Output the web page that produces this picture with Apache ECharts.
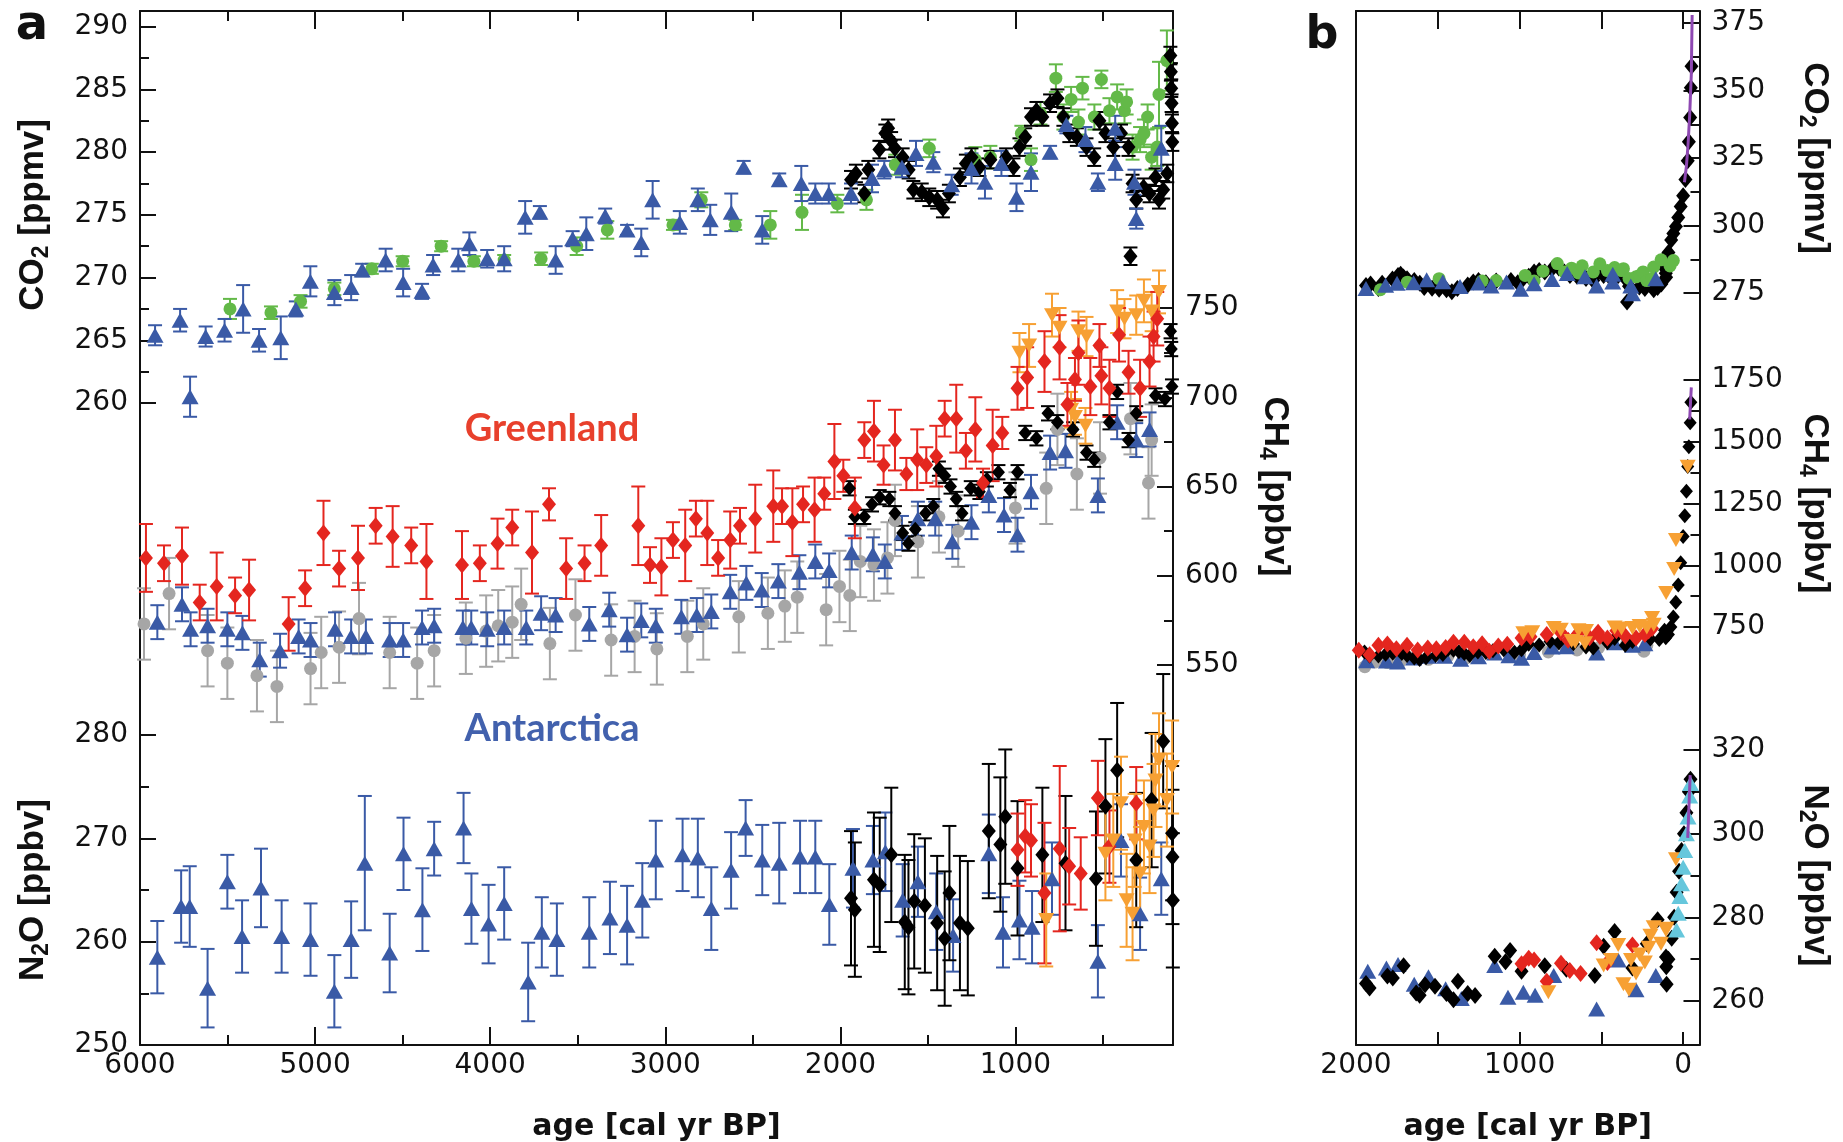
<!DOCTYPE html>
<html>
<head>
<meta charset="utf-8">
<title>CO2, CH4 and N2O over the late Holocene</title>
<script src="https://cdn.jsdelivr.net/npm/echarts@6.0.0/dist/echarts.min.js"></script>
<style>
  html, body { margin: 0; padding: 0; background: #fff; }
  #chart { width: 1843px; height: 1142px; }
</style>
</head>
<body>
<div id="chart"></div>
<script>
// ages in cal yr BP

// panel a, CO2 [ppmv]
var co2BlueAge = [5914,5771,5714,5625,5517,5411,5320,5196,5110,5027,
  4890,4794,4731,4597,4497,4389,4326,4182,4119,4017,
  3920,3800,3716,3626,3529,3451,3343,3218,3137,3072,
  2917,2814,2743,2623,2552,2446,2349,2223,2143,2066,
  1939,1819,1749,1648,1568,1469,1364,1251,1174,1080,
  994,911,802,709,600,529,430,430,320,310,167];
var co2BlueVal = [265.4,266.6,260.5,265.3,265.8,267.5,265.0,265.2,267.5,269.7,
  268.8,269.2,270.6,271.4,269.6,268.9,271.0,271.4,272.7,271.5,
  271.5,274.8,275.2,271.4,273.1,273.5,274.9,273.8,272.8,276.2,
  274.4,276.2,274.6,275.2,278.8,273.8,277.8,277.5,276.7,276.7,
  276.7,277.9,278.6,278.8,279.9,279.2,277.4,278.7,277.6,279.1,
  276.4,278.4,280.0,282.2,281.0,277.6,281.9,279.1,277.6,274.7,280.3];
var co2BlueErr = [0.8,0.9,1.6,0.8,0.9,1.9,0.9,1.7,0.6,1.2,
  1.0,1.0,0.5,0.9,1.1,0.6,0.8,0.9,0.9,0.7,
  1.0,1.3,0.5,1.1,0.6,1.3,0.6,0.4,1.1,1.5,
  0.9,0.9,1.2,1.5,0.5,1.1,0.5,1.4,0.8,0.8,
  0.8,1.1,0.7,0.8,1.0,0.8,0.8,1.2,1.3,1.0,
  1.1,1.5,0.5,0.7,1.0,0.7,1.0,1.3,1.0,0.8,1.8];

var co2GreenAge = [5486,5252,5083,4890,4676,4500,4280,4093,3920,3709,
  3506,3331,2956,2794,2600,2400,2219,2017,1851,1686,
  1492,1229,1143,966,911,857,769,726,682,640,
  617,549,509,463,419,377,365,331,288,266,
  245,222,190,180,135];
var co2GreenVal = [267.5,267.2,268.1,269.1,270.7,271.3,272.5,271.3,271.4,271.5,
  272.5,273.8,274.2,276.2,274.2,274.2,275.2,275.9,276.2,279.0,
  280.3,279.4,279.6,281.5,279.4,283.1,285.9,282.8,284.2,282.4,
  285.1,282.8,285.8,283.3,284.4,283.3,284.0,280.4,281.0,281.5,
  282.8,279.6,280.4,284.6,287.3];
var co2GreenErr = [0.8,0.5,0.5,0.5,0.4,0.4,0.4,0.4,0.4,0.5,
  0.7,0.7,0.4,0.6,0.4,1.1,1.4,0.7,0.8,0.8,
  0.7,1.0,0.9,0.6,0.9,0.9,1.1,1.0,1.0,1.0,
  0.9,1.0,0.7,1.0,1.0,1.0,1.0,1.0,1.0,1.1,
  1.0,1.0,1.5,2.6,2.4];

var co2BlackAge = [1939,1911,1863,1840,1777,1743,1727,1710,1688,1644,
  1610,1583,1535,1492,1447,1414,1380,1317,1283,1251,
  1206,1143,1053,1011,977,944,911,880,846,802,
  760,726,692,649,594,550,520,486,441,397,
  354,343,331,310,268,234,200,180,156,133,
  115,112,110,108,106,104];
var co2BlackVal = [277.8,278.3,276.7,278.6,280.2,281.5,281.9,280.9,280.3,279.6,
  278.6,277.0,276.8,276.4,276.2,275.5,276.7,278.0,279.1,279.6,
  278.8,279.4,279.6,278.8,280.4,281.2,282.8,283.3,282.8,283.9,
  284.3,282.8,281.5,281.2,280.4,279.6,282.5,281.5,280.4,281.5,
  280.4,271.7,277.5,276.2,277.2,276.7,278.0,276.2,277.0,278.3,
  287.7,286.4,285.1,283.9,282.3,280.8];
var co2BlackErr = 0.7;

// panel a, CH4 [ppbv]
var ch4RedAge = [5966,5863,5760,5659,5562,5457,5377,5151,5057,4952,
  4863,4755,4654,4557,4451,4364,4161,4059,3958,3874,
  3761,3664,3566,3461,3366,3154,3087,3022,2956,2886,
  2825,2760,2698,2629,2573,2486,2383,2333,2274,2213,
  2147,2092,2034,1983,1917,1863,1808,1753,1688,1623,
  1561,1509,1452,1404,1338,1283,1229,1185,1130,1075,
  988,933,834,748,703,660,640,572,520,509,
  463,408,354,288,234,211,190];
var ch4RedVal = [610,607,611,585,594,589,592,573,593,624,
  604,610,628,622,617,608,606,607,618,627,
  613,640,604,607,617,628,606,605,620,617,
  632,624,610,620,628,632,639,639,630,640,
  637,646,664,656,638,676,681,662,676,657,
  665,662,667,688,688,670,682,652,673,680,
  705,711,720,728,696,710,725,706,729,712,
  705,735,714,705,720,734,744];
var ch4RedErr = [19,10,16,10,19,10,17,15,10,18,
  10,18,10,17,10,21,19,10,14,10,
  23,9,17,10,17,22,10,16,10,20,
  10,18,10,16,10,19,20,10,19,10,
  18,9,21,9,17,10,17,11,17,9,
  17,10,17,10,19,10,18,8,20,9,
  12,17,17,18,12,12,18,16,12,16,
  16,15,12,16,14,14,15];

var ch4OrangeAge = [977,922,791,748,682,660,640,600,594,419,377,310,266,222,180];
var ch4OrangeVal = [725,729,746,739,693,689,737,684,734,748,744,746,754,748,759];
var ch4OrangeErr = [11,12,12,11,10,10,11,10,11,12,11,11,12,11,12];

var ch4BlueAge = [5901,5760,5711,5614,5501,5415,5316,5200,5094,5026,
  4886,4794,4710,4574,4497,4389,4320,4156,4108,4017,
  3920,3794,3709,3626,3434,3320,3218,3137,3054,2908,
  2820,2737,2629,2537,2449,2354,2234,2143,2064,1935,
  1814,1746,1648,1557,1458,1360,1251,1152,1065,988,
  911,802,714,529,419,310,234];
var ch4BlueVal = [574,584,570,572,570,568,553,558,566,564,
  570,566,566,564,564,571,572,571,571,570,
  571,571,579,578,573,581,567,575,572,577,
  578,580,591,596,592,597,602,608,603,613,
  612,608,624,632,632,619,630,645,634,623,
  647,669,670,645,686,676,682];
var ch4BlueErr = 9.5;

var ch4GrayAge = [5977,5834,5614,5501,5332,5218,5026,4965,4863,4749,
  4574,4417,4320,4139,4023,3954,3874,3823,3659,3513,
  3309,3175,3048,2874,2783,2580,2414,2317,2246,2081,
  2005,1946,1886,1808,1731,1688,1557,1437,1327,1000,
  824,760,649,517,343,240,222];
var ch4GrayVal = [573,590,558,551,544,538,548,557,560,576,
  557,551,558,565,569,572,574,584,562,578,
  564,566,559,566,573,577,579,583,588,581,
  594,589,608,606,610,631,619,633,625,638,
  649,682,657,666,688,652,676];
var ch4GrayErr = 20;

var ch4BlackAge = [1948,1917,1863,1819,1775,1720,1688,1644,1611,1572,
  1513,1469,1437,1404,1371,1338,1305,1255,1206,1163,
  1097,1031,988,944,880,814,760,671,594,550,
  463,419,354,310,200,146,114,110,106];
var ch4BlackVal = [649,633,633,640,644,643,635,624,618,626,
  635,639,660,656,650,643,635,649,647,654,
  658,648,658,680,677,691,686,682,669,665,
  686,703,676,691,701,699,737,727,706];
var ch4BlackErr = 4;

// panel a, N2O [ppbv]
var n2oBlueAge = [5901,5765,5716,5614,5501,5417,5309,5191,5026,4890,
  4794,4716,4574,4495,4387,4320,4152,4107,4009,3920,
  3783,3705,3619,3434,3316,3218,3131,3054,2901,2814,
  2737,2624,2541,2446,2349,2230,2143,2063,1928,1814,
  1743,1644,1557,1452,1356,1152,1071,977,905,791,
  529,397,288,167];
var n2oBlueVal = [258.5,263.4,263.4,255.5,265.8,260.5,265.2,260.5,260.2,255.2,
  260.2,267.6,258.9,268.5,263.1,269.0,271.0,263.2,261.7,263.7,
  256.1,260.9,260.2,260.9,262.3,261.6,264.0,267.9,268.4,268.1,
  263.2,266.9,271.0,267.9,267.6,268.2,268.2,263.6,267.1,267.9,
  268.7,264.0,265.8,262.9,260.6,268.5,260.9,262.1,261.4,266.1,
  258.1,269.8,262.7,266.1];
var n2oBlueErr = [3.5,3.5,3.9,3.8,2.6,3.5,3.8,3.5,3.5,3.5,
  3.7,6.5,3.8,3.5,4.0,2.6,3.4,3.4,3.8,3.5,
  3.8,3.4,3.5,3.4,3.5,3.8,3.6,3.8,3.5,3.8,
  4.0,3.7,2.7,3.4,3.9,3.5,3.5,3.9,3.8,3.3,
  3.8,3.5,3.4,3.7,3.5,3.8,3.4,3.8,3.5,3.5,
  3.5,3.5,3.5,3.5];

var n2oBlackAge = [1939,1917,1808,1775,1709,1632,1611,1578,1517,1447,
  1404,1377,1317,1272,1152,1086,1058,988,846,714,
  540,486,419,310,222,156,105,103,101];
var n2oBlackVal = [264.2,263.1,266.0,265.5,268.4,261.9,261.4,263.9,263.5,261.8,
  260.3,264.7,261.8,261.3,270.7,269.4,272.1,267.1,268.4,267.6,
  266.1,273.1,276.6,267.9,273.7,279.4,270.5,268.2,264.0];
var n2oBlackErr = 6.5;

var n2oRedAge = [988,944,911,834,747,693,627,529,463,310];
var n2oRedVal = [268.9,270.2,269.8,264.7,269.0,267.3,266.6,273.9,269.2,273.4];
var n2oRedErr = [3.5,3.5,3.5,6.8,8.0,3.7,3.5,3.6,3.5,3.5];

var n2oOrangeAge = [824,486,441,397,365,331,319,288,266,234,211,200,180,135,105];
var n2oOrangeVal = [262.1,268.5,269.8,273.4,264.0,262.7,269.8,266.6,271.1,269.2,272.7,275.6,277.6,273.7,276.9];
var n2oOrangeErr = 4.5;

// panel b, the industrial rise (added to the records above)
var co2ModBlackAge = [90,73,60,44,30,15,0,-14,-28,-35,-43,-47,-51];
var co2ModBlackVal = [290,294.6,297,299.6,303,307,311,317,324,331,340,351,359];
var co2ModGreenAge = [80,60];
var co2ModGreenVal = [285,287];
var co2PurpleAge = [-8,-20,-30,-40,-50,-55];
var co2PurpleVal = [316,322,330,341,356,378];

var ch4ModBlackAge = [90,75,60,45,30,15,0,-10,-20,-28,-35,-43,-47];
var ch4ModBlackVal = [720,750,790,850,920,1010,1116,1200,1300,1400,1480,1577,1660];
var ch4ModOrangeAge = [190,104,55,44,-28];
var ch4ModOrangeVal = [786,888,985,1102,1399];
var ch4PurpleAge = [-40,-45,-50];
var ch4PurpleVal = [1590,1660,1720];

var n2oModBlackAge = [90,70,55,40,25,10,-5,-20,-35,-45];
var n2oModBlackVal = [270,275,280,286,291,296,300,305,310,313];
var n2oModOrangeAge = [102,44];
var n2oModOrangeVal = [277.3,293.9];
var n2oCyanAge = [40,30,20,10,0,-10,-20,-30,-40,-45];
var n2oCyanVal = [277,281,285,288,292,296,300,304,309,312];
var n2oPurpleAge = [-28,-35,-43];
var n2oPurpleVal = [299,306,314];

window.onload = function() {

    var chart = echarts.init(document.getElementById('chart'));

    var INK = '#111111';
    var TICKFONT = 'DejaVu Sans';
    var TITLEFONT = 'Liberation Sans';
    var COL = {
        blue: '#3a5aa6', green: '#63b948', black: '#000000', red: '#e4261f',
        orange: '#f7a033', gray: '#a6a6a6', purple: '#8e48b2', cyan: '#66c7dc'
    };

    // x is plotted as minus the age, so ages run right to left
    function pts(age, val, oldest) {
        var out = [];
        for (var i = 0; i < age.length; i++) {
            if (age[i] <= oldest) out.push([-age[i], val[i]]);
        }
        return out;
    }
    function bars(age, val, err) {
        return age.map(function(a, i) {
            var e = (typeof err === 'number') ? err : err[i];
            return [-a, val[i] - e, val[i] + e];
        });
    }

    function errBar(params, api) {
        var hi = api.coord([api.value(0), api.value(2)]);
        var lo = api.coord([api.value(0), api.value(1)]);
        var c = api.visual('color');
        var w = 7;
        function seg(x1, y1, x2, y2) {
            return { type: 'line', shape: { x1: x1, y1: y1, x2: x2, y2: y2 },
                     style: { stroke: c, lineWidth: 2 } };
        }
        return { type: 'group', children: [
            seg(hi[0], hi[1], lo[0], lo[1]),
            seg(hi[0] - w, hi[1], hi[0] + w, hi[1]),
            seg(lo[0] - w, lo[1], lo[0] + w, lo[1])
        ] };
    }

    var series = [];
    function addErr(xi, yi, data, color) {
        series.push({ type: 'custom', xAxisIndex: xi, yAxisIndex: yi, data: data,
            renderItem: errBar, encode: { x: 0, y: [1, 2] }, itemStyle: { color: color },
            clip: false, silent: true });
    }
    function addDots(xi, yi, data, color, sym, size, rot) {
        series.push({ type: 'scatter', xAxisIndex: xi, yAxisIndex: yi, data: data,
            symbol: sym, symbolSize: size, symbolRotate: rot || 0,
            itemStyle: { color: color, opacity: 1 }, clip: false, silent: true });
    }
    function addLine(xi, yi, data, color) {
        series.push({ type: 'line', xAxisIndex: xi, yAxisIndex: yi, data: data,
            showSymbol: false, lineStyle: { color: color, width: 3 }, clip: false, silent: true });
    }

    var TRI = [17, 15], DIA = [14, 17], DOT = 13, INV = [16, 14];
    var BIG = 99999;

    // panel a: CO2
    addErr(4, 2, bars(co2GreenAge, co2GreenVal, co2GreenErr), COL.green);
    addDots(4, 2, pts(co2GreenAge, co2GreenVal, BIG), COL.green, 'circle', DOT);
    addErr(4, 2, bars(co2BlackAge, co2BlackVal, co2BlackErr), COL.black);
    addDots(4, 2, pts(co2BlackAge, co2BlackVal, BIG), COL.black, 'diamond', DIA);
    addErr(4, 2, bars(co2BlueAge, co2BlueVal, co2BlueErr), COL.blue);
    addDots(4, 2, pts(co2BlueAge, co2BlueVal, BIG), COL.blue, 'triangle', TRI);

    // panel a: CH4
    addErr(5, 3, bars(ch4GrayAge, ch4GrayVal, ch4GrayErr), COL.gray);
    addDots(5, 3, pts(ch4GrayAge, ch4GrayVal, BIG), COL.gray, 'circle', DOT);
    addErr(5, 3, bars(ch4BlueAge, ch4BlueVal, ch4BlueErr), COL.blue);
    addDots(5, 3, pts(ch4BlueAge, ch4BlueVal, BIG), COL.blue, 'triangle', TRI);
    addErr(5, 3, bars(ch4BlackAge, ch4BlackVal, ch4BlackErr), COL.black);
    addDots(5, 3, pts(ch4BlackAge, ch4BlackVal, BIG), COL.black, 'diamond', [13, 15]);
    addErr(5, 3, bars(ch4OrangeAge, ch4OrangeVal, ch4OrangeErr), COL.orange);
    addDots(5, 3, pts(ch4OrangeAge, ch4OrangeVal, BIG), COL.orange, 'triangle', INV, 180);
    addErr(5, 3, bars(ch4RedAge, ch4RedVal, ch4RedErr), COL.red);
    addDots(5, 3, pts(ch4RedAge, ch4RedVal, BIG), COL.red, 'diamond', DIA);

    // panel a: N2O
    addErr(6, 4, bars(n2oBlueAge, n2oBlueVal, n2oBlueErr), COL.blue);
    addDots(6, 4, pts(n2oBlueAge, n2oBlueVal, BIG), COL.blue, 'triangle', TRI);
    addErr(6, 4, bars(n2oBlackAge, n2oBlackVal, n2oBlackErr), COL.black);
    addDots(6, 4, pts(n2oBlackAge, n2oBlackVal, BIG), COL.black, 'diamond', DIA);
    addErr(6, 4, bars(n2oRedAge, n2oRedVal, n2oRedErr), COL.red);
    addDots(6, 4, pts(n2oRedAge, n2oRedVal, BIG), COL.red, 'diamond', DIA);
    addErr(6, 4, bars(n2oOrangeAge, n2oOrangeVal, n2oOrangeErr), COL.orange);
    addDots(6, 4, pts(n2oOrangeAge, n2oOrangeVal, BIG), COL.orange, 'triangle', INV, 180);

    // panel b: last 2000 years, no error bars
    var B = 2000;
    addDots(9, 7, pts(co2BlackAge.concat(co2ModBlackAge), co2BlackVal.concat(co2ModBlackVal), B), COL.black, 'diamond', DIA);
    addDots(9, 7, pts(co2GreenAge.concat(co2ModGreenAge), co2GreenVal.concat(co2ModGreenVal), B), COL.green, 'circle', DOT);
    addDots(9, 7, pts(co2BlueAge, co2BlueVal, B), COL.blue, 'triangle', TRI);
    addLine(9, 7, pts(co2PurpleAge, co2PurpleVal, B), COL.purple);

    addDots(10, 8, pts(ch4GrayAge, ch4GrayVal, B), COL.gray, 'circle', DOT);
    addDots(10, 8, pts(ch4BlueAge, ch4BlueVal, B), COL.blue, 'triangle', TRI);
    addDots(10, 8, pts(ch4BlackAge.concat(ch4ModBlackAge), ch4BlackVal.concat(ch4ModBlackVal), B), COL.black, 'diamond', [13, 15]);
    addDots(10, 8, pts(ch4RedAge, ch4RedVal, B), COL.red, 'diamond', DIA);
    addDots(10, 8, pts(ch4OrangeAge.concat(ch4ModOrangeAge), ch4OrangeVal.concat(ch4ModOrangeVal), B), COL.orange, 'triangle', INV, 180);
    addLine(10, 8, pts(ch4PurpleAge, ch4PurpleVal, B), COL.purple);

    addDots(11, 9, pts(n2oBlueAge, n2oBlueVal, B), COL.blue, 'triangle', TRI);
    addDots(11, 9, pts(n2oBlackAge.concat(n2oModBlackAge), n2oBlackVal.concat(n2oModBlackVal), B), COL.black, 'diamond', DIA);
    addDots(11, 9, pts(n2oRedAge, n2oRedVal, B), COL.red, 'diamond', DIA);
    addDots(11, 9, pts(n2oOrangeAge.concat(n2oModOrangeAge), n2oOrangeVal.concat(n2oModOrangeVal), B), COL.orange, 'triangle', INV, 180);
    addDots(11, 9, pts(n2oCyanAge, n2oCyanVal, B), COL.cyan, 'triangle', TRI);
    addLine(11, 9, pts(n2oPurpleAge, n2oPurpleVal, B), COL.purple);

    // axes
    var lineSt = { color: INK, width: 2 };
    function xAx(grid, min, max, o) {
        var a = {
            type: 'value', gridIndex: grid, min: min, max: max,
            position: o.pos || 'bottom', interval: o.interval, show: o.show !== false,
            axisLine: { show: !!o.line, onZero: false, lineStyle: lineSt },
            axisTick: { show: !!o.tick, inside: true, length: o.tick || 0, lineStyle: lineSt },
            axisLabel: { show: !!o.fmt, margin: 7, fontFamily: TICKFONT, fontSize: 28, color: INK, formatter: o.fmt },
            splitLine: { show: false }
        };
        if (o.name) {
            a.name = o.name; a.nameLocation = 'middle'; a.nameGap = o.gap;
            a.nameTextStyle = { fontFamily: TICKFONT, fontWeight: 'bold', fontSize: 30, color: INK };
        }
        return a;
    }
    var rich = {
        b: { fontFamily: TITLEFONT, fontWeight: 'bold', fontSize: 35, color: INK, lineHeight: 40 },
        s: { fontFamily: TITLEFONT, fontWeight: 'bold', fontSize: 23, color: INK, lineHeight: 14, verticalAlign: 'bottom' }
    };
    var plain = function(v) { return String(v); };
    function yAx(grid, pos, min, max, o) {
        var ticks = !!o.interval && !o.line;
        var a = {
            type: 'value', gridIndex: grid, position: pos, min: min, max: max, interval: o.interval,
            axisLine: { show: !!o.line, onZero: false, lineStyle: lineSt },
            axisTick: { show: ticks, inside: true, length: 16, lineStyle: lineSt },
            minorTick: { show: ticks, splitNumber: 2, length: 9, lineStyle: lineSt },
            axisLabel: { show: ticks, margin: 12, fontFamily: TICKFONT, fontSize: 28, color: INK, formatter: plain },
            splitLine: { show: false }, minorSplitLine: { show: false }
        };
        if (o.name) {
            a.name = o.name; a.nameLocation = 'middle'; a.nameGap = o.gap;
            a.nameRotate = pos === 'left' ? 90 : -90;
            a.nameMoveOverlap = false;
            a.nameTextStyle = { rich: rich };
        }
        return a;
    }
    var nameCO2 = '{b|CO}{s|2}{b| [ppmv]}';
    var nameCH4 = '{b|CH}{s|4}{b| [ppbv]}';
    var nameN2O = '{b|N}{s|2}{b|O [ppbv]}';

    var fmtA = function(v) { return (v <= -1000 && v % 1000 === 0) ? String(-v) : ''; };
    var fmtB = function(v) { return (v <= 0 && v % 1000 === 0) ? String(-v) : ''; };

    var AL = 140, AW = 1033, BL = 1356, BW = 343.5;
    var grids = [
        { left: AL, top: 11, width: AW, height: 1034 },      // 0 frame a
        { left: AL, top: 26.7, width: AW, height: 376.3 },   // 1 CO2 a
        { left: AL, top: 308, width: AW, height: 357 },      // 2 CH4 a
        { left: AL, top: 735, width: AW, height: 310 },      // 3 N2O a
        { left: BL, top: 11, width: BW, height: 1034 },      // 4 frame b
        { left: BL, top: 23, width: BW, height: 270 },       // 5 CO2 b
        { left: BL, top: 380, width: BW, height: 247 },      // 6 CH4 b
        { left: BL, top: 750, width: BW, height: 251 }       // 7 N2O b
    ].map(function(g) { g.containLabel = false; g.outerBoundsMode = 'none'; return g; });

    var xAxes = [
        xAx(0, -6000, -100, { line: true, tick: 18, interval: 1000, fmt: fmtA, name: 'age [cal yr BP]', gap: 67 }),
        xAx(0, -6000, -100, { tick: 10, interval: 500 }),
        xAx(0, -6000, -100, { pos: 'top', line: true, tick: 18, interval: 1000 }),
        xAx(0, -6000, -100, { pos: 'top', tick: 10, interval: 500 }),
        xAx(1, -6000, -100, { show: false }),
        xAx(2, -6000, -100, { show: false }),
        xAx(3, -6000, -100, { show: false }),
        xAx(4, -2000, 100, { line: true, tick: 13, interval: 500, fmt: fmtB, name: 'age [cal yr BP]', gap: 67 }),
        xAx(4, -2000, 100, { pos: 'top', line: true, tick: 18, interval: 500 }),
        xAx(5, -2000, 100, { show: false }),
        xAx(6, -2000, 100, { show: false }),
        xAx(7, -2000, 100, { show: false })
    ];
    var yAxes = [
        yAx(0, 'left', 0, 1, { line: true }),
        yAx(0, 'right', 0, 1, { line: true }),
        yAx(1, 'left', 260, 290, { interval: 5, name: nameCO2, gap: 87 }),
        yAx(2, 'right', 550, 750, { interval: 50, name: nameCH4, gap: 82 }),
        yAx(3, 'left', 250, 280, { interval: 10, name: nameN2O, gap: 87 }),
        yAx(4, 'left', 0, 1, { line: true }),
        yAx(4, 'right', 0, 1, { line: true }),
        yAx(5, 'right', 275, 375, { interval: 25, name: nameCO2, gap: 95 }),
        yAx(6, 'right', 750, 1750, { interval: 250, name: nameCH4, gap: 95 }),
        yAx(7, 'right', 260, 320, { interval: 20, name: nameN2O, gap: 95 })
    ];

    function txt(x, y, s, font, fill) {
        return { type: 'text', x: x, y: y, silent: true,
            style: { text: s, font: font, fill: fill, textAlign: 'center', textVerticalAlign: 'middle',
                     align: 'center', verticalAlign: 'middle' } };
    }

    chart.setOption({
        animation: false,
        backgroundColor: '#ffffff',
        grid: grids,
        xAxis: xAxes,
        yAxis: yAxes,
        series: series,
        graphic: [
            txt(32, 27, 'a', 'bold 48px "DejaVu Sans"', INK),
            txt(1322, 36, 'b', 'bold 46px "DejaVu Sans"', INK),
            txt(552, 429, 'Greenland', 'bold 38px Lato', '#e8402c'),
            txt(552, 729, 'Antarctica', 'bold 38px Lato', '#4261ad')
        ]
    });
}
</script>
</body>
</html>
